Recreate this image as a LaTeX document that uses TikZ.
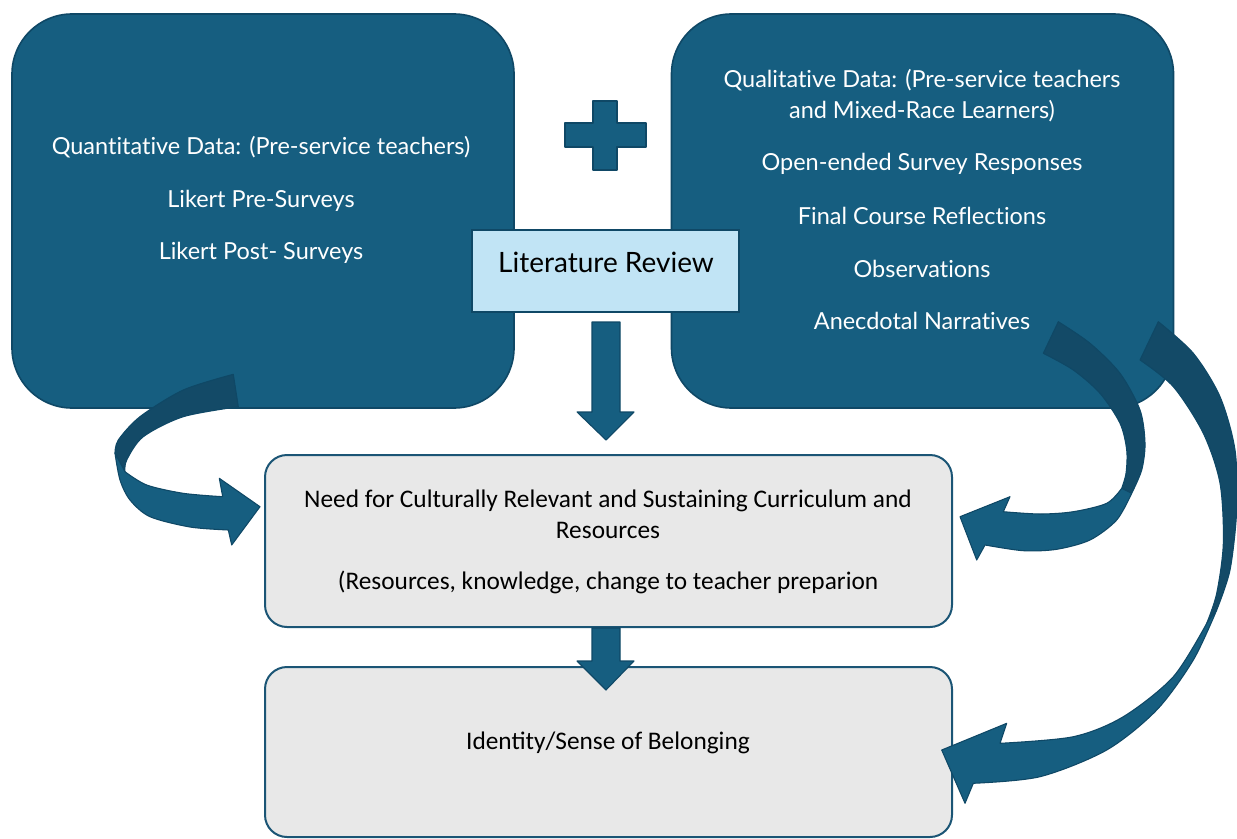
\documentclass[tikz,border=0pt]{standalone}
\usepackage{fontspec}
\setmainfont[RawFeature={-liga;-clig;-calt;-dlig}]{Lato}
\newfontfamily\narrowfont{Carlito}
\definecolor{boxblue}{HTML}{165E80}
\definecolor{edgeblue}{HTML}{0F4866}
\definecolor{bandblue}{HTML}{134A67}
\definecolor{litfill}{HTML}{C1E4F5}
\definecolor{grayfill}{HTML}{E8E8E8}
\definecolor{grayedge}{HTML}{1B5575}
\tikzset{
  bigbox/.style={draw=edgeblue, line width=1.2pt, fill=boxblue, rounded corners=45pt, minimum width=376.5pt, minimum height=295.5pt, inner sep=0pt},
  graybox/.style={draw=grayedge, line width=1.5pt, fill=grayfill, rounded corners=16.5pt, minimum width=515.25pt, minimum height=129pt, inner sep=0pt},
  litbox/.style={draw=edgeblue, line width=1.5pt, fill=litfill, minimum width=200.25pt, minimum height=61.5pt, inner sep=0pt},
  toptext/.style={text=white, font=\fontsize{17.6}{23.25}\selectfont, inner sep=0pt, align=center},
  graytext/.style={text=black, font=\narrowfont\fontsize{19}{23.25}\selectfont, inner sep=0pt, align=center},
  shapefill/.style={fill=boxblue, draw=edgeblue, line width=0.8pt, line join=round},
  bandfill/.style={fill=bandblue, draw=edgeblue, line width=0.8pt, line join=round}
}
\begin{document}
\begin{tikzpicture}[x=0.75pt,y=-0.75pt]
\useasboundingbox (0,0) rectangle (1237,838);
% main boxes
\node[bigbox] (quant) at (263,211) {};
\node[bigbox] (qual) at (922.5,211) {};
\node[graybox] (need) at (608.5,541) {};
\node[graybox, minimum height=127.5pt] (ident) at (608.5,752) {};
\node[litbox] (lit) at (605.5,271) {};
% texts
\node[toptext] (q1) at (261,147.5) {Quantitative Data: (Pre-service teachers)};
\node[toptext] (q2) at (261,200.5) {Likert Pre-Surveys};
\node[toptext] (q3) at (261,252.5) {Likert Post- Surveys};
\node[toptext] (r1) at (922,95.5) {Qualitative Data: (Pre-service teachers\\and Mixed-Race Learners)};
\node[toptext] (r2) at (922,163.5) {Open-ended Survey Responses};
\node[toptext] (r3) at (922,215.5) {Final Course Reflections};
\node[toptext] (r4) at (922,268.5) {Observations};
\node[toptext] (r5) at (922,320.5) {Anecdotal Narratives};
\node[text=black, font=\fontsize{21}{24}\selectfont, inner sep=0pt] (lt) at (606,262) {Literature Review};
\node[graytext] (n1) at (608,514.5) {Need for Culturally Relevant and Sustaining Curriculum and\\Resources};
\node[graytext] (n2) at (608,582) {(Resources, knowledge, change to teacher preparion};
\node[graytext] (i1) at (608,743) {Identity/Sense of Belonging};
% plus sign
\draw[shapefill] (593,101) -- (617,101) -- (617,123) -- (646,123) -- (646,147) -- (617,147) -- (617,170) -- (593,170) -- (593,147) -- (565,147) -- (565,123) -- (593,123) -- cycle;
% straight arrows
\draw[shapefill] (592,322) -- (620,322) -- (620,412) -- (634,412) -- (606,440) -- (577,412) -- (592,412) -- cycle;
\draw[shapefill] (592,628) -- (620,628) -- (620,661) -- (634,661) -- (606,690) -- (577,661) -- (592,661) -- cycle;
% left curved arrow
\draw[bandfill] plot[smooth] coordinates {(233.3,374.3) (183.3,390) (140,416.7) (118.3,440) (115,453.3)}
  -- plot[smooth] coordinates {(125,471.7) (126.7,460) (143.3,436.7) (183.3,416.7) (238.3,406.7)} -- cycle;
\draw[shapefill] plot[smooth] coordinates {(115,453.3) (120,480) (130,500) (150,516.7) (190,527) (228.3,530)}
  -- (231.7,545) -- (260,506.7) -- (219.3,478.3) -- (222.7,496.7)
  -- plot[smooth] coordinates {(222.7,496.7) (183.3,493.3) (146.7,485) (125,471.7)} -- cycle;
% right upper curved arrow
\draw[bandfill] plot[smooth] coordinates {(1058.3,321.7) (1090,343.3) (1120,373.3) (1140,410) (1145,443.3) (1141.7,470) (1131.7,493.3)}
  -- plot[smooth] coordinates {(1121.7,488.3) (1126,473.3) (1126.7,450) (1120,423.3) (1100,393.3) (1073.3,370) (1043.3,353.3)} -- cycle;
\draw[shapefill] plot[smooth] coordinates {(1131.7,493.3) (1116.7,520) (1090,540) (1056.7,549.3) (1023.3,550.7) (985,545)}
  -- (976.7,560) -- (960,516.7) -- (1010,496.7) -- (1003.3,511.7)
  -- plot[smooth] coordinates {(1003.3,511.7) (1040,514) (1073.3,511.7) (1106.7,503.3) (1121.7,488.3)} -- cycle;
% right big curved arrow
\draw[bandfill] plot[smooth] coordinates {(1158.3,321.7) (1193.3,353.3) (1220,396.7) (1235,450) (1236.7,510) (1230,570) (1216.7,610)}
  -- plot[smooth] coordinates {(1206.7,623.3) (1216.7,593.3) (1223.3,543.3) (1220,483.3) (1203.3,433.3) (1173.3,386.7) (1140,360)} -- cycle;
\draw[shapefill] plot[smooth] coordinates {(1216.7,610) (1193.3,660) (1156.7,710) (1106.7,750) (1040,776.7) (973.3,783.3)}
  -- (965,803.3) -- (941.7,750) -- (1006.7,723.3) -- (1000,743.3)
  -- plot[smooth] coordinates {(1000,743.3) (1073.3,736.7) (1123.3,716.7) (1173.3,676.7) (1206.7,623.3)} -- cycle;
\end{tikzpicture}
\end{document}
